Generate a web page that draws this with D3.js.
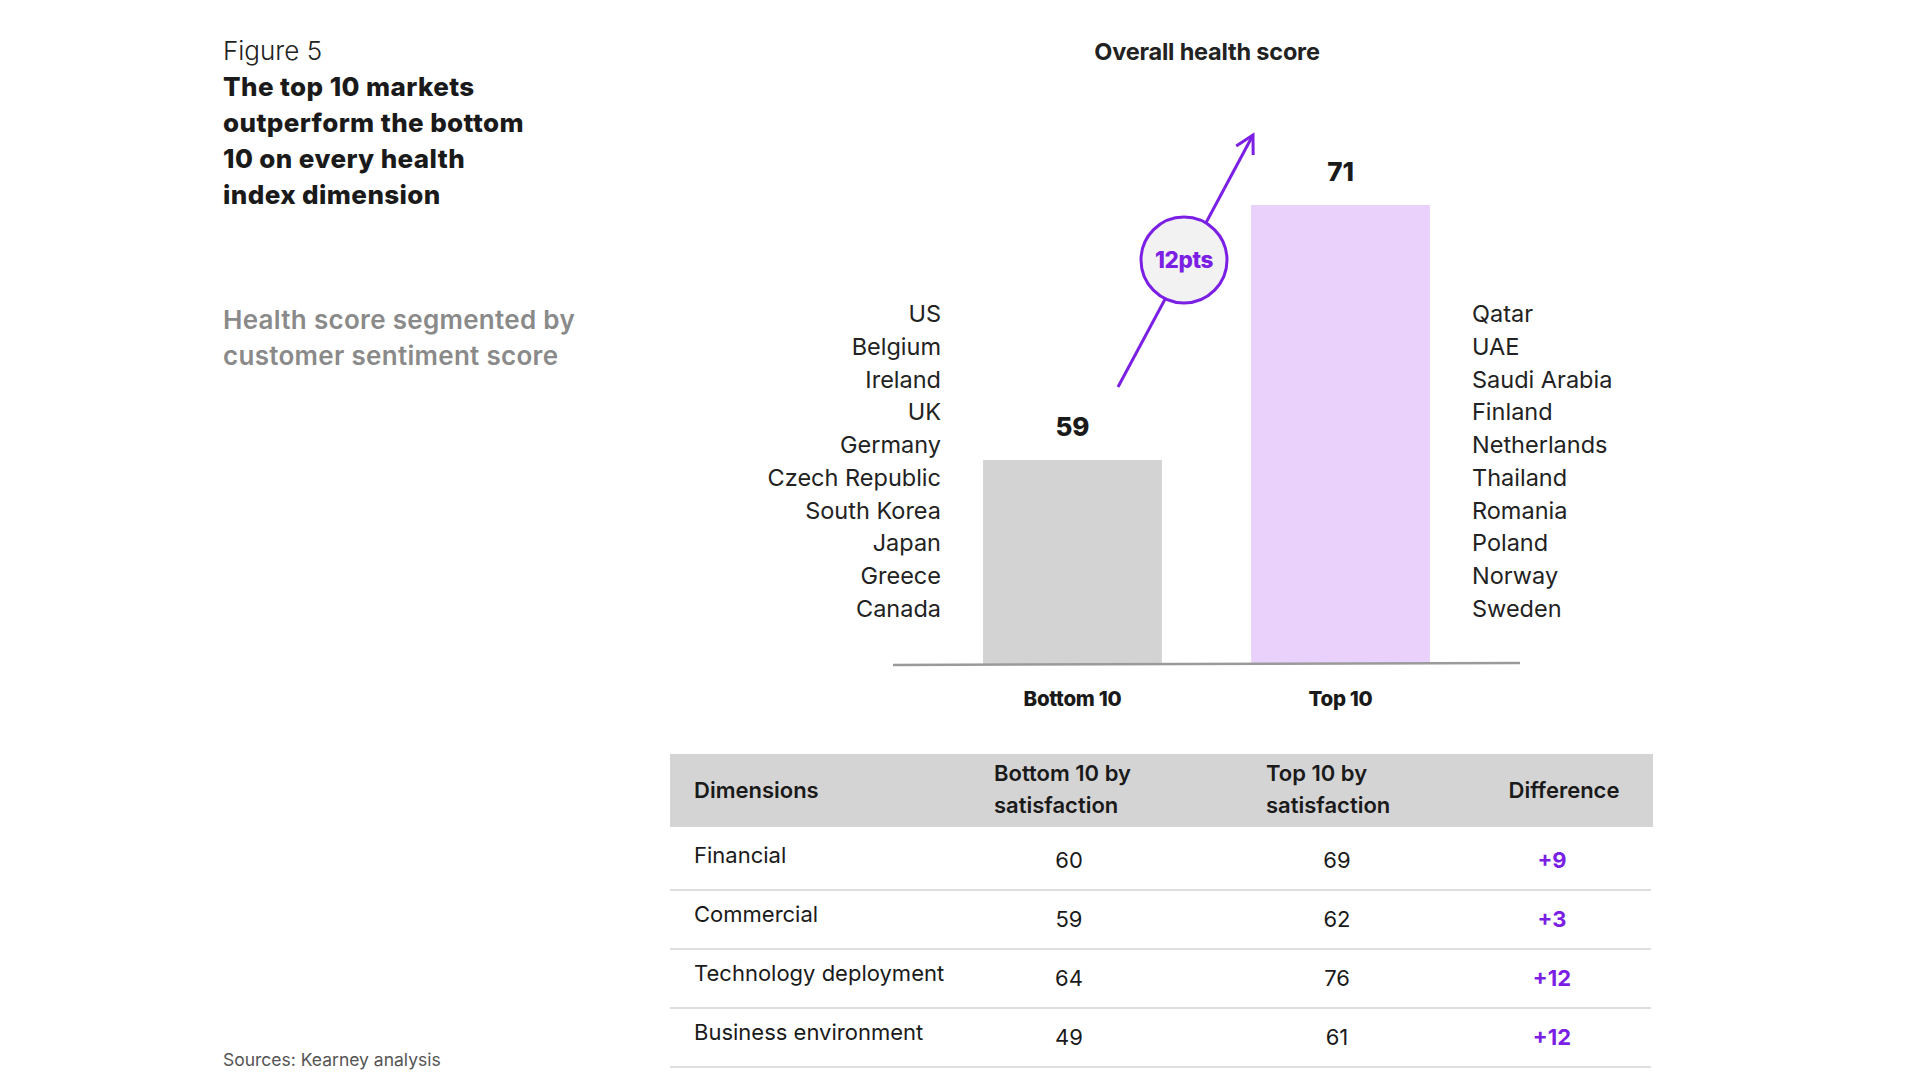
<!DOCTYPE html>
<html>
<head>
<meta charset="utf-8">
<script src="https://cdn.jsdelivr.net/npm/d3@7"></script>
<style>
  body { margin: 0; background: #fff; }
  svg { display: block; font-family: Inter, "Noto Sans", sans-serif; }
</style>
</head>
<body>
<svg id="chart" width="1920" height="1080"></svg>
<script>
// data
var groups = ["Bottom 10", "Top 10"]
var scores = [59, 71]
var bottomMarkets = ["US", "Belgium", "Ireland", "UK", "Germany", "Czech Republic", "South Korea", "Japan", "Greece", "Canada"]
var topMarkets = ["Qatar", "UAE", "Saudi Arabia", "Finland", "Netherlands", "Thailand", "Romania", "Poland", "Norway", "Sweden"]

var dimensions = ["Financial", "Commercial", "Technology deployment", "Business environment"]
var bottomScores = [60, 59, 64, 49]
var topScores = [69, 62, 76, 61]
var tableHeaders = [["Dimensions"], ["Bottom 10 by", "satisfaction"], ["Top 10 by", "satisfaction"], ["Difference"]]

var purple = "#7b1fe4"
var svg = d3.select("#chart")

// left text block
svg.append("text").attr("x", 223).attr("y", 60)
	.attr("font-size", 26).attr("font-weight", 300).attr("fill", "#222")
	.text("Figure 5")

var titleLines = ["The top 10 markets", "outperform the bottom", "10 on every health", "index dimension"]
titleLines.forEach(function(t, i) {
	svg.append("text").attr("x", 223).attr("y", 96 + i * 36)
		.attr("font-size", 26).attr("font-weight", 800).attr("fill", "#1a1a1a")
		.attr("letter-spacing", 0.4)
		.text(t)
})

var subLines = ["Health score segmented by", "customer sentiment score"]
subLines.forEach(function(t, i) {
	svg.append("text").attr("x", 223).attr("y", 329 + i * 36)
		.attr("font-size", 26).attr("font-weight", 600).attr("fill", "#8a8a8a")
		.attr("letter-spacing", 0.3)
		.text(t)
})

svg.append("text").attr("x", 223).attr("y", 1066)
	.attr("font-size", 17.5).attr("fill", "#555")
	.text("Sources: Kearney analysis")

// bar chart
svg.append("text").attr("x", 1207).attr("y", 60)
	.attr("text-anchor", "middle").attr("font-size", 23.5).attr("font-weight", 700).attr("fill", "#222")
	.attr("letter-spacing", -0.2)
	.text("Overall health score")

var x = d3.scaleBand().domain(groups).range([893, 1520]).paddingInner(0.333).paddingOuter(0.336)
var y = d3.scaleLinear().domain([49.4, 71]).range([664, 205])
var barColors = d3.scaleOrdinal().domain(groups).range(["#d3d3d3", "#e9d1fc"])

svg.selectAll("rect.bar").data(groups).enter().append("rect")
	.attr("class", "bar")
	.attr("x", function(d) { return x(d) })
	.attr("width", x.bandwidth())
	.attr("y", function(d, i) { return y(scores[i]) })
	.attr("height", function(d, i) { return y.range()[0] - y(scores[i]) })
	.attr("fill", function(d) { return barColors(d) })

svg.selectAll("text.val").data(groups).enter().append("text")
	.attr("x", function(d) { return x(d) + x.bandwidth() / 2 })
	.attr("y", function(d, i) { return y(scores[i]) - 24 })
	.attr("text-anchor", "middle").attr("font-size", 26).attr("font-weight", 800).attr("fill", "#1a1a1a")
	.text(function(d, i) { return scores[i] })

svg.append("line").attr("x1", 893).attr("x2", 1520).attr("y1", 665).attr("y2", 663)
	.attr("stroke", "#9a9a9a").attr("stroke-width", 2.5)

var xAxis = svg.append("g").attr("transform", "translate(0,665)")
	.call(d3.axisBottom(x).tickSize(0).tickPadding(26))
xAxis.select(".domain").remove()
xAxis.selectAll("text").attr("font-size", 20.5).attr("font-weight", 800).attr("fill", "#1a1a1a")
	.attr("font-family", "Inter, sans-serif").attr("letter-spacing", -0.3)

// market lists
var rowY = d3.scalePoint().domain(d3.range(10)).range([314, 609])
svg.selectAll("text.bm").data(bottomMarkets).enter().append("text")
	.attr("x", 941).attr("y", function(d, i) { return rowY(i) + 8 })
	.attr("text-anchor", "end").attr("font-size", 23.5).attr("fill", "#222")
	.text(function(d) { return d })
svg.selectAll("text.tm").data(topMarkets).enter().append("text")
	.attr("x", 1472).attr("y", function(d, i) { return rowY(i) + 8 })
	.attr("font-size", 23.5).attr("fill", "#222")
	.text(function(d) { return d })

// arrow with 12pts bubble
var a0 = [1118, 387], a1 = [1253, 135]
svg.append("line").attr("x1", a0[0]).attr("y1", a0[1]).attr("x2", a1[0]).attr("y2", a1[1])
	.attr("stroke", purple).attr("stroke-width", 3)
var ang = Math.atan2(a1[1] - a0[1], a1[0] - a0[0])
var hl = 20
svg.append("path")
	.attr("d", "M" + (a1[0] - hl * Math.cos(ang - 0.5)) + "," + (a1[1] - hl * Math.sin(ang - 0.5)) +
		"L" + a1[0] + "," + a1[1] +
		"L" + (a1[0] - hl * Math.cos(ang + 0.5)) + "," + (a1[1] - hl * Math.sin(ang + 0.5)))
	.attr("fill", "none").attr("stroke", purple).attr("stroke-width", 3)

var c = [1184, 260]
svg.append("circle").attr("cx", c[0]).attr("cy", c[1]).attr("r", 43)
	.attr("fill", "#f2f2f2").attr("stroke", purple).attr("stroke-width", 3)
svg.append("text").attr("x", c[0]).attr("y", c[1] + 8)
	.attr("text-anchor", "middle").attr("font-size", 22.5).attr("font-weight", 800).attr("fill", purple)
	.attr("letter-spacing", -0.4)
	.text((scores[1] - scores[0]) + "pts")

// table
var colX = [694, 994, 1266, 1564]
svg.append("rect").attr("x", 670).attr("y", 754).attr("width", 983).attr("height", 73).attr("fill", "#d4d4d4")
tableHeaders.forEach(function(lines, j) {
	var t = svg.append("text").attr("x", colX[j])
		.attr("text-anchor", j == 3 ? "middle" : "start")
		.attr("font-size", 22).attr("font-weight", 600).attr("fill", "#1a1a1a")
	if (lines.length == 1) {
		t.attr("y", 798).text(lines[0])
	} else {
		lines.forEach(function(l, k) {
			t.append("tspan").attr("x", colX[j]).attr("y", 781 + k * 32).text(l)
		})
	}
})

var rowTop = d3.scaleBand().domain(dimensions).range([831, 1067])
var numX = [1069, 1337, 1552]
dimensions.forEach(function(d, i) {
	var y0 = rowTop(d)
	svg.append("text").attr("x", colX[0]).attr("y", y0 + 32)
		.attr("font-size", 22).attr("fill", "#1a1a1a").text(d)
	svg.append("text").attr("x", numX[0]).attr("y", y0 + 37)
		.attr("text-anchor", "middle").attr("font-size", 22).attr("fill", "#1a1a1a").text(bottomScores[i])
	svg.append("text").attr("x", numX[1]).attr("y", y0 + 37)
		.attr("text-anchor", "middle").attr("font-size", 22).attr("fill", "#1a1a1a").text(topScores[i])
	svg.append("text").attr("x", numX[2]).attr("y", y0 + 37)
		.attr("text-anchor", "middle").attr("font-size", 22).attr("font-weight", 700).attr("fill", purple)
		.text("+" + (topScores[i] - bottomScores[i]))
	svg.append("line").attr("x1", 670).attr("x2", 1651)
		.attr("y1", y0 + rowTop.bandwidth()).attr("y2", y0 + rowTop.bandwidth())
		.attr("stroke", "#dedede").attr("stroke-width", 2)
})
</script>
</body>
</html>
